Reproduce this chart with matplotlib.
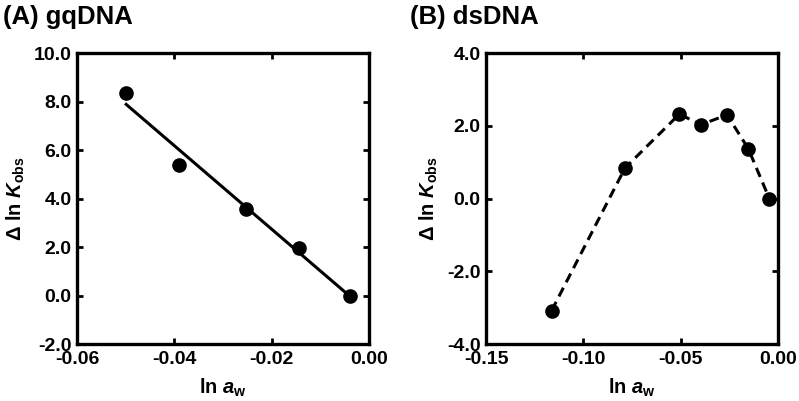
import numpy as np
import matplotlib
matplotlib.use("Agg")
import matplotlib.pyplot as plt
from matplotlib.ticker import FormatStrFormatter, MultipleLocator

plt.rcParams['font.family'] = ['Liberation Sans', 'DejaVu Sans']
plt.rcParams['font.weight'] = 'bold'
plt.rcParams['axes.unicode_minus'] = False
plt.rcParams['mathtext.fontset'] = 'custom'
plt.rcParams['mathtext.rm'] = 'Liberation Sans:bold'
plt.rcParams['mathtext.it'] = 'Liberation Sans:bold:italic'
plt.rcParams['mathtext.bf'] = 'Liberation Sans:bold'

# (A) gqDNA
gq_ln_aw = [-0.0499, -0.0390, -0.0253, -0.0143, -0.0039]
gq_dlnK = [8.35, 5.38, 3.57, 1.95, 0.0]

# (B) dsDNA
ds_ln_aw = [-0.1163, -0.0786, -0.0507, -0.0396, -0.0262, -0.0153, -0.0045]
ds_dlnK = [-3.08, 0.84, 2.32, 2.03, 2.30, 1.37, 0.0]

ylab = 'Δ ln $K_{\\mathrm{obs}}$'
xlab = 'ln $a_{\\mathrm{w}}$'


def style(ax):
    for s in ax.spines.values():
        s.set_linewidth(2.4)
    ax.tick_params(direction='in', length=4, width=2, top=True, right=True,
                   labelsize=14, pad=5)
    ax.tick_params(axis='y', pad=4)
    for lab in ax.get_xticklabels() + ax.get_yticklabels():
        lab.set_fontweight('bold')
    ax.set_xlabel(xlab, fontsize=14.5, fontweight='bold', labelpad=6)
    ax.set_ylabel(ylab, fontsize=14.5, fontweight='bold', labelpad=5)
    ax.yaxis.set_major_formatter(FormatStrFormatter('%.1f'))
    ax.xaxis.set_major_formatter(FormatStrFormatter('%.2f'))


fig = plt.figure(figsize=(7.99, 4.01), dpi=100)
ax1 = fig.add_axes([0.0964, 0.1421, 0.3655, 0.7257])
ax2 = fig.add_axes([0.6083, 0.1421, 0.3655, 0.7257])

# panel A: points + linear fit
ax1.plot(gq_ln_aw, gq_dlnK, 'o', color='black', markersize=9.5, clip_on=False, zorder=3)
k, b = np.polyfit(gq_ln_aw, gq_dlnK, 1)
xs = np.array([min(gq_ln_aw), max(gq_ln_aw)])
ax1.plot(xs, k * xs + b, color='black', lw=2.2)
ax1.set_xlim(-0.06, 0.0)
ax1.set_ylim(-2, 10)
ax1.xaxis.set_major_locator(MultipleLocator(0.02))
ax1.yaxis.set_major_locator(MultipleLocator(2))
style(ax1)

# panel B: points joined by dashed line
ax2.plot(ds_ln_aw, ds_dlnK, 'o--', color='black', markersize=9.5, lw=2.2,
         dashes=(3.2, 2), clip_on=False, zorder=3)
ax2.set_xlim(-0.15, 0.0)
ax2.set_ylim(-4, 4)
ax2.xaxis.set_major_locator(MultipleLocator(0.05))
ax2.yaxis.set_major_locator(MultipleLocator(2))
style(ax2)

fig.text(0.004, 0.958, '(A) gqDNA', fontsize=18.5, fontweight='bold', va='center', ha='left')
fig.text(0.513, 0.958, '(B) dsDNA', fontsize=18.5, fontweight='bold', va='center', ha='left')

fig.savefig('out.png', dpi=100)
